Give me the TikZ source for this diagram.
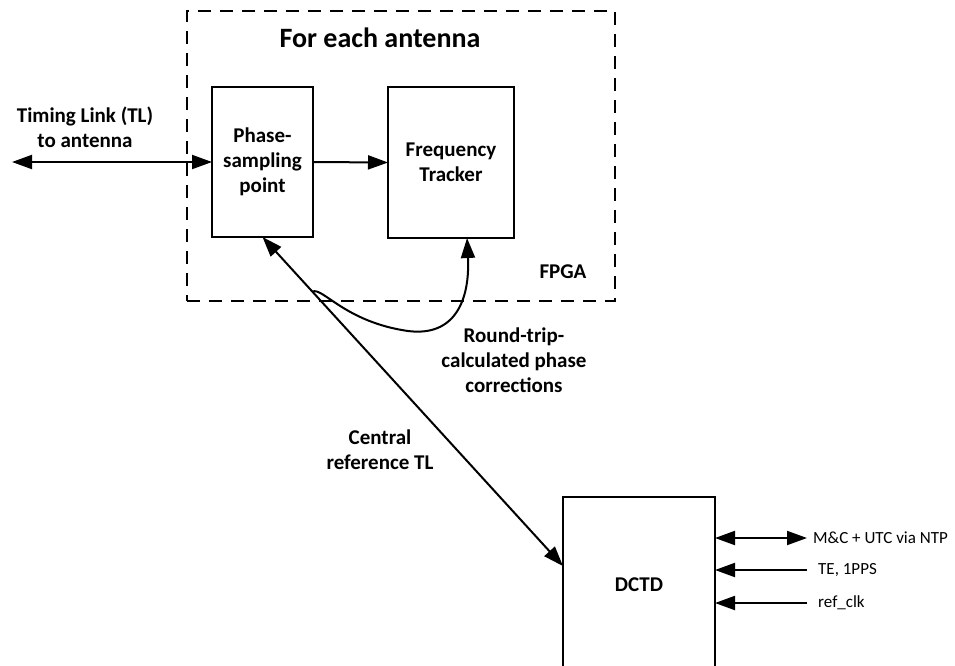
\documentclass[tikz,border=0pt]{standalone}
\usepackage{fontspec}
\setmainfont{Carlito}
\usetikzlibrary{arrows.meta,calc}
\begin{document}
\begin{tikzpicture}[x=1pt,y=-1pt,
  >={Triangle[length=20pt,width=14pt]},
  blk/.style={draw,line width=2pt,inner sep=0pt,outer sep=0pt,align=center,
    font=\fontsize{21}{25}\selectfont\bfseries},
  lbl/.style={align=center,font=\fontsize{21}{25}\selectfont\bfseries,inner sep=0pt},
  sml/.style={anchor=west,inner sep=0pt,font=\fontsize{17}{19}\selectfont},
  conn/.style={line width=2pt}]
\useasboundingbox (0,0) rectangle (955,665);
\clip (0,0) rectangle (955,665);
% FPGA dashed region
\node[draw,line width=2pt,dash pattern=on 13pt off 9pt,inner sep=0pt,outer sep=0pt,
  minimum width=428pt,minimum height=290pt] (fpga) at (401,156) {};
\node[lbl,font=\fontsize{28}{30}\selectfont\bfseries] (title) at (380,38) {For each antenna};
\node[lbl] (fpgalbl) at (563,272) {FPGA};
% blocks
\node[blk,minimum width=101pt,minimum height=150pt] (ps) at (262.5,162) {Phase-\\sampling\\point};
\node[blk,minimum width=126pt,minimum height=151pt] (ft) at (451,162.5) {Frequency\\Tracker};
\node[blk,minimum width=152pt,minimum height=176pt] (dctd) at (639,585) {DCTD};
% timing link
\coordinate (tl) at (12,162);
\node[lbl] (tllbl) at (85,127) {Timing Link (TL)\\to antenna};
\draw[conn,<->] (tl) -- (ps.west);
\draw[conn,->] (ps.east) -- (ft.west);
% central reference TL
\draw[conn,<->] (ps.south) -- coordinate[pos=0.166] (hook) (dctd.166);
\node[lbl] (crlbl) at (380,450) {Central\\reference TL};
% round-trip corrections
\draw[conn,->] (hook) .. controls +(10,-5) and (345,322) .. (408,331)
  .. controls (455,337) and (470,300) .. (ft.282);
\node[lbl] (rtlbl) at (514,360) {Round-trip-\\calculated phase\\corrections};
% DCTD inputs
\coordinate (mc) at (807,538);
\coordinate (te) at (807,570);
\coordinate (rc) at (807,603);
\draw[conn,<->] (dctd.east |- mc) -- (mc);
\draw[conn,->] (te) -- (dctd.east |- te);
\draw[conn,->] (rc) -- (dctd.east |- rc);
\node[sml] (mclbl) at (813,538) {M\&C + UTC via NTP};
\node[sml] (telbl) at (818,570) {TE, 1PPS};
\node[sml] (rclbl) at (818,603) {ref\_clk};
\end{tikzpicture}
\end{document}
